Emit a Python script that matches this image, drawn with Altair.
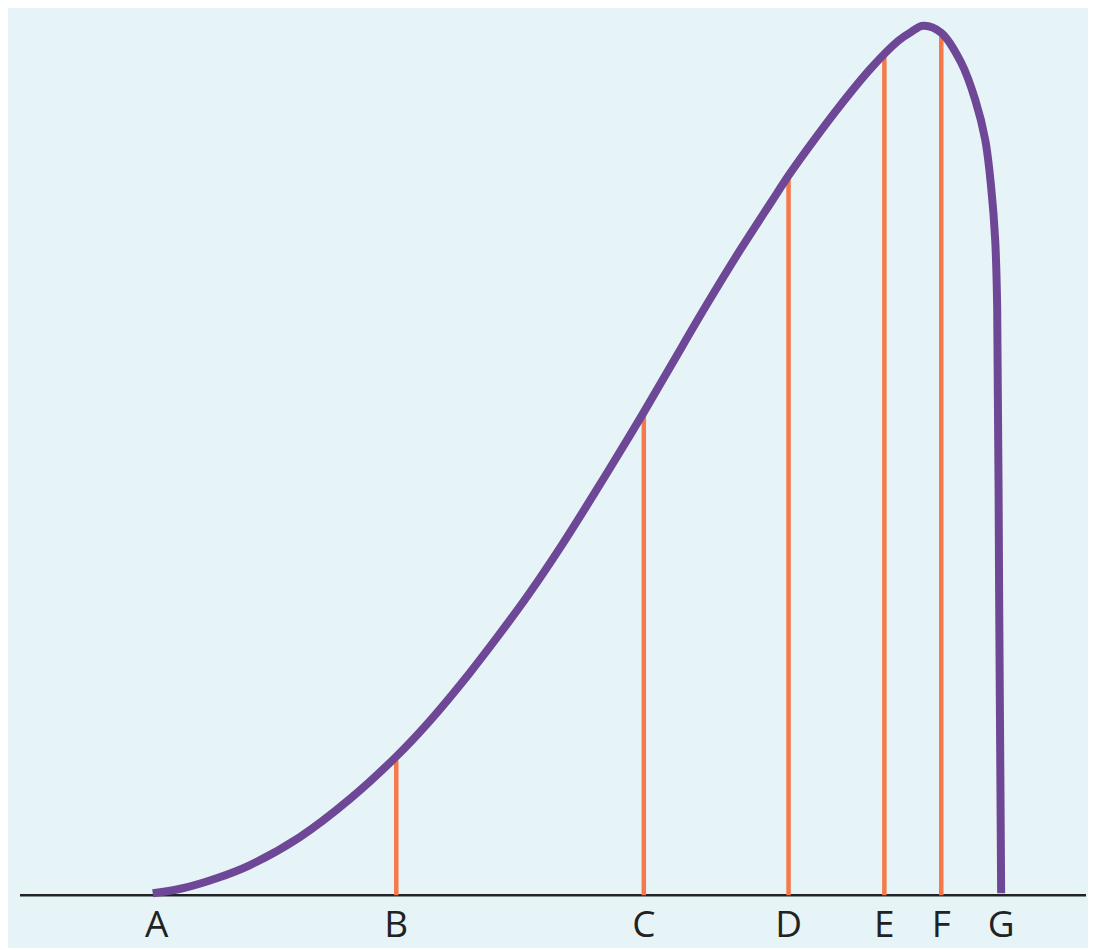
import altair as alt
import pandas as pd

# curve: horizontal position and height above the baseline
curve_x = [153, 183, 217, 250, 300, 350, 397, 430, 470, 500, 530, 563, 597, 630, 645, 673, 707, 740, 773, 790, 807, 840, 873, 900, 913, 925, 943, 963, 977, 987, 993, 997, 999, 1001, 1003]
curve_h = [2, 7, 17, 30, 58, 96, 139, 174, 222, 261, 302, 351, 405, 459, 484, 532, 590, 644, 695, 721, 745, 789, 829, 856, 865, 871, 864, 834, 797, 757, 709, 657, 590, 295, 2]

# marked points
labels = ["A", "B", "C", "D", "E", "F", "G"]
label_x = [157, 397, 645, 790, 886, 943, 1003]
line_h = [0, 135, 481, 718, 845, 860, 0]

curve_df = pd.DataFrame({"x": curve_x, "h": curve_h, "i": list(range(len(curve_x)))})
lines_df = pd.DataFrame({"x": label_x[1:6], "h": line_h[1:6]})
label_df = pd.DataFrame({"x": label_x, "label": labels, "h": [-31] * 7})
base_df = pd.DataFrame({"x": [20], "x2": [1088], "h": [0]})

xs = alt.Scale(domain=[8, 1088], zero=False, nice=False)
ys = alt.Scale(domain=[-52, 882], zero=False, nice=False)

baseline = alt.Chart(base_df).mark_rule(color="#222222", strokeWidth=2.5).encode(
    x=alt.X("x:Q", scale=xs, axis=None), x2="x2:Q", y=alt.Y("h:Q", scale=ys, axis=None)
)

rules = alt.Chart(lines_df).mark_rule(color="#f5794a", strokeWidth=4.5).encode(
    x=alt.X("x:Q", scale=xs, axis=None), y=alt.Y("h:Q", scale=ys, axis=None), y2=alt.datum(0)
)

curve = alt.Chart(curve_df).mark_line(color="#6e4796", strokeWidth=8, interpolate="catmull-rom").encode(
    x=alt.X("x:Q", scale=xs, axis=None), y=alt.Y("h:Q", scale=ys, axis=None), order="i:Q"
)

text = alt.Chart(label_df).mark_text(fontSize=37, font="Open Sans", color="#222222", baseline="middle").encode(
    x=alt.X("x:Q", scale=xs, axis=None), y=alt.Y("h:Q", scale=ys, axis=None), text="label:N"
)

chart = alt.layer(baseline, rules, curve, text).properties(
    width=1080, height=934, padding=0, background="#e6f4f8"
).configure_view(stroke=None)

chart.save("out.html", embed_options={"renderer": "svg", "actions": False})
